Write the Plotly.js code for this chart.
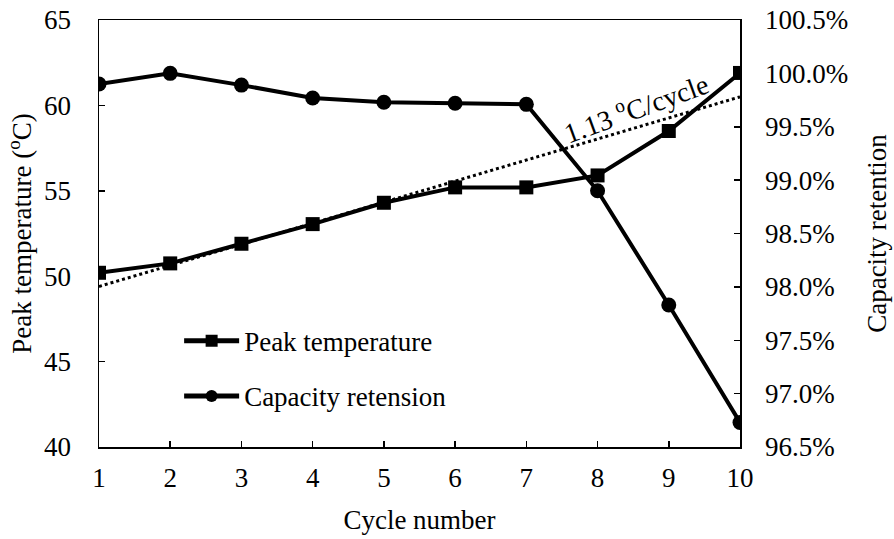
<!DOCTYPE html>
<html>
<head>
<meta charset="utf-8">
<script src="https://cdn.plot.ly/plotly-3.0.1.min.js"></script>
<style>html,body{margin:0;padding:0;background:#fff;}#chart{width:894px;height:539px;}</style>
</head>
<body>
<div id="chart"></div>
<script>
var cycles = [1, 2, 3, 4, 5, 6, 7, 8, 9, 10];
var peakTemp = [50.2, 50.75, 51.9, 53.05, 54.3, 55.2, 55.2, 55.9, 58.5, 61.9];
var capRetention = [0.9990, 1.0000, 0.9989, 0.9977, 0.9973, 0.9972, 0.9971, 0.9890, 0.9783, 0.9673];
var trendX = [1, 10];
var trendY = [49.4, 60.5];
var trendLabel = '1.13 <sup>o</sup>C/cycle';

var FONT = '"Liberation Serif", serif';
var FS = 27;

var traces = [
  {x: trendX, y: trendY, type: 'scatter', mode: 'lines', showlegend: false,
   line: {color: '#000', width: 3, dash: 'dot'}, hoverinfo: 'skip'},
  {x: cycles, y: peakTemp, type: 'scatter', mode: 'lines+markers', name: 'Peak temperature',
   legendgroup: 'a',
   line: {color: '#000', width: 4}, marker: {symbol: 'square', size: 14, color: '#000'}},
  {x: cycles, y: capRetention, type: 'scatter', mode: 'lines+markers', name: 'Capacity retension',
   legendgroup: 'b', yaxis: 'y2',
   line: {color: '#000', width: 4}, marker: {symbol: 'circle', size: 15, color: '#000'}}
];

var axisCommon = {
  showline: true, linecolor: '#000', linewidth: 1.5,
  ticks: 'inside', ticklen: 6, tickwidth: 1.5, tickcolor: '#000',
  showgrid: false, zeroline: false,
  tickfont: {family: FONT, size: FS, color: '#000'}
};

var layout = {
  width: 894, height: 539,
  margin: {l: 99, r: 154, t: 20, b: 92},
  paper_bgcolor: '#fff', plot_bgcolor: '#fff',
  font: {family: FONT, size: FS, color: '#000'},
  xaxis: Object.assign({}, axisCommon, {
    range: [1, 10], dtick: 1, tick0: 1, mirror: true,
    ticklabelstandoff: 6,
    title: {text: 'Cycle number', font: {family: FONT, size: FS}, standoff: 18}
  }),
  yaxis: Object.assign({}, axisCommon, {
    range: [40, 65], dtick: 5, tick0: 40,
    ticklabelstandoff: 21,
    title: {text: 'Peak temperature (<sup>o</sup>C)', font: {family: FONT, size: FS}, standoff: 4}
  }),
  yaxis2: Object.assign({}, axisCommon, {
    range: [0.965, 1.005], dtick: 0.005, tick0: 0.965, tickformat: '.1%',
    overlaying: 'y', side: 'right',
    ticklabelstandoff: 18,
    title: {text: 'Capacity retention', font: {family: FONT, size: FS}, standoff: 20}
  }),
  legend: {
    x: 0.125, y: 0.305, xanchor: 'left', yanchor: 'top',
    bgcolor: 'rgba(0,0,0,0)', font: {family: FONT, size: FS, color: '#000'},
    tracegroupgap: 17, itemwidth: 55, itemsizing: 'constant'
  },
  annotations: [{
    x: 8.53, y: 59.9, xref: 'x', yref: 'y', text: trendLabel, showarrow: false,
    textangle: -20, font: {family: FONT, size: 28, color: '#000'}
  }],
  showlegend: true
};

Plotly.newPlot('chart', traces, layout, {displayModeBar: false, staticPlot: true});
</script>
</body>
</html>
